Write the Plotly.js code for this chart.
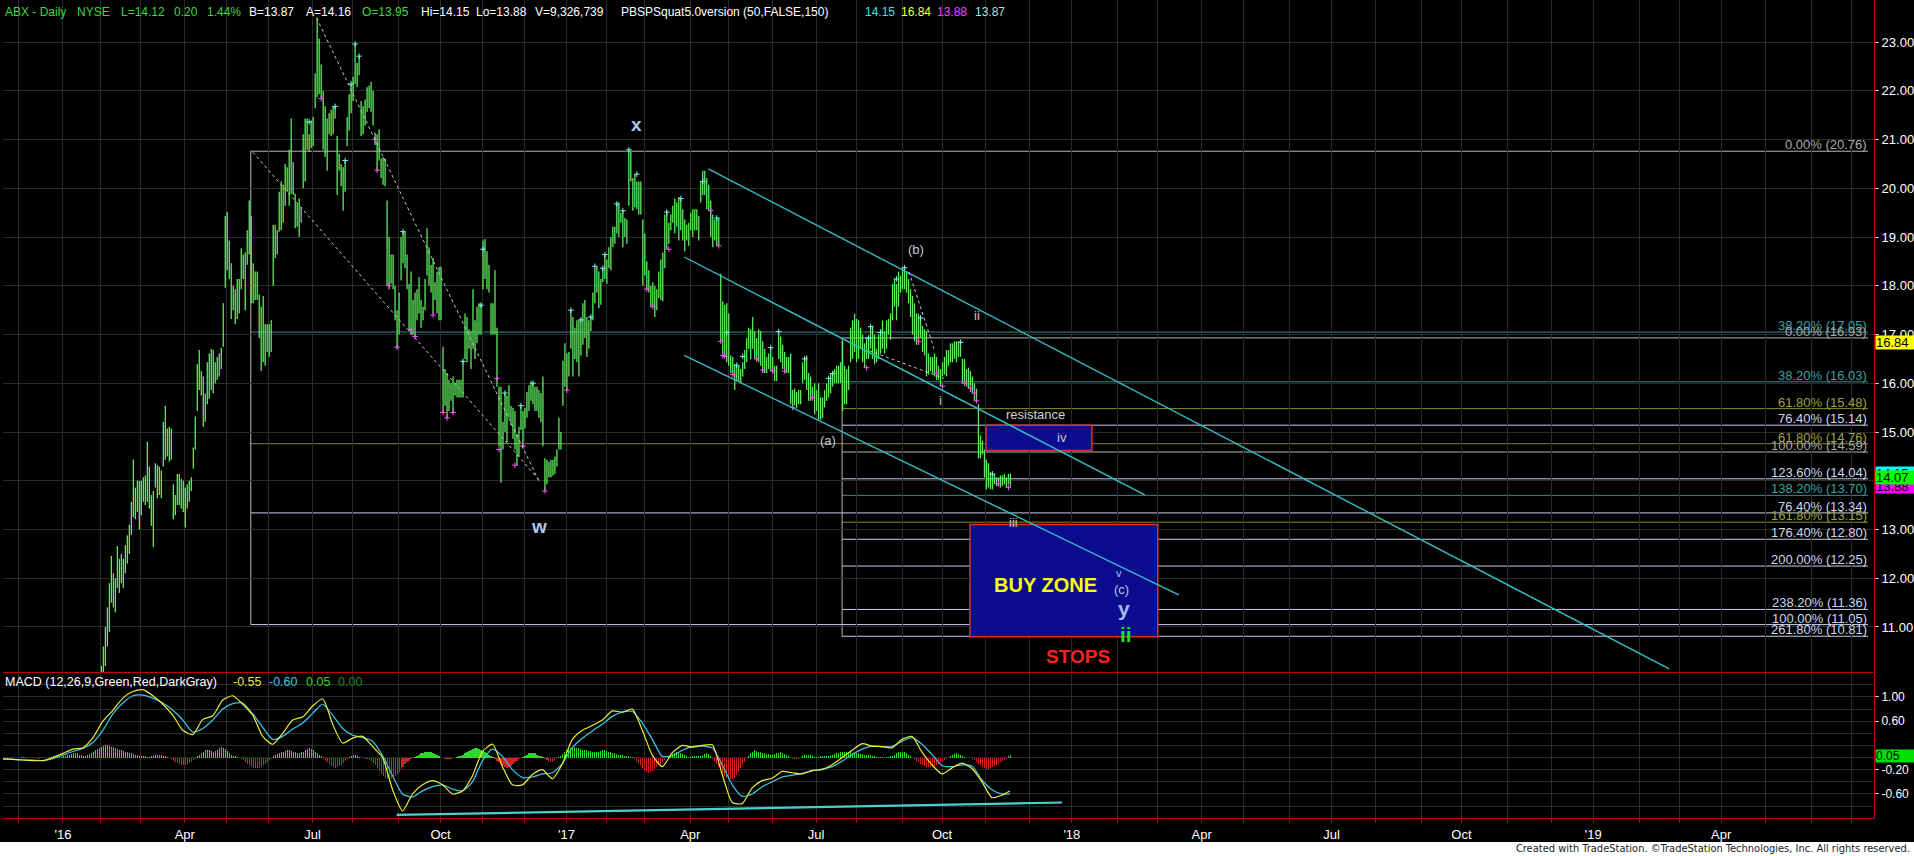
<!DOCTYPE html>
<html><head><meta charset="utf-8">
<script src="https://cdn.plot.ly/plotly-3.0.1.min.js"></script>
<style>
html,body{margin:0;padding:0;background:#000;overflow:hidden}
#chart{position:absolute;left:0;top:0;width:1914px;height:856px}
#credit{position:absolute;left:0;top:842px;width:1910px;height:14px;background:#fff;color:#222;
 font:11px "Liberation Sans Narrow","DejaVu Sans Condensed",Arial,sans-serif;line-height:14px;text-align:right;padding-right:4px}
</style></head><body>
<div id="chart"></div>
<div id="credit">Created with TradeStation. ©TradeStation Technologies, Inc. All rights reserved.</div>
<script>
// ================= DATA =================
const holidays = ['2015-11-26','2015-12-25','2016-01-01','2016-01-18','2016-02-15','2016-03-25','2016-05-30',
  '2016-07-04','2016-09-05','2016-11-24','2016-12-26','2017-01-02','2017-01-16','2017-02-20','2017-04-14',
  '2017-05-29','2017-07-04','2017-09-04'];
const firstAxisDay = '2015-11-18';
const axisEnd = '2019-07-16 12:00';
const firstPriceDay = '2016-01-04';

// daily bar highs / lows, one per trading day from 2016-01-04 to 2017-11-20
const barHigh = [
 7.9,7.8,7.5,7.6,7.8,7.9,8.0,7.6,7.4,7.6,7.8,8.1,8.3,8.6,8.7,9.0,9.2,9.7,10.0, // Jan16
 10.2,10.6,11.0,11.4,11.9,12.46,12.1,12.0,12.66,12.4,12.5,12.4,12.68,12.88,13.1,13.57,14.44,13.86,14.0,14.0, // Feb
 14.0,14.07,14.11,14.8,14.29,13.71,13.79,14.36,14.32,14.29,14.21,15.21,15.54,15.07,15.11,15.07,13.93,13.71,14.14,14.14,14.04,14.0, // Mar
 13.86,13.93,14.0,14.07,14.68,15.32,16.39,16.68,16.25,16.14,15.79,16.43,16.61,16.71,16.68,16.43,16.54,16.61,16.73,17.64,19.43, // Apr
 19.52,18.93,18.46,18.0,17.93,18.14,18.14,18.77,18.64,18.68,19.14,19.75,19.43,18.46,18.29,18.29,17.82,17.57,17.79,17.21,17.21, // May
 17.21,17.29,19.25,19.25,19.14,19.93,20.14,20.07,20.5,20.43,20.79,21.43,20.54,19.89,19.68,19.79,19.61,21.11,21.43,21.43,21.11,21.39, // Jun
 21.46,22.36,23.5,23.07,22.54,22.0,21.68,21.43,21.54,21.61,21.68,21.68,21.07,20.71,20.5,20.43,20.57,21.46,21.93,22.14, // Jul
 22.29,22.96,22.57,22.71,21.79,21.68,21.82,22.07,22.11,22.18,22.0,21.14,21.11,21.21,20.61,20.64,20.61,19.75,19.0,18.64,18.64,18.0,17.5, // Aug
 17.86,19.0,19.11,19.11,18.64,18.04,18.29,17.71,17.86,17.93,18.18,17.71,17.57,18.14,19.18,18.79,18.43,18.57,18.07,18.29,18.39, // Sep
 18.39,16.75,16.29,16.21,16.07,16.0,16.14,16.0,16.07,16.07,16.07,16.46,17.43,17.36,17.11,17.07,17.93,17.29,17.57,17.64,17.64, // Oct
 18.93,18.96,18.71,18.43,17.64,17.64,18.32,17.14,15.93,15.93,15.21,15.79,15.75,15.96,15.54,15.5,15.43,14.96,15.11,15.54,15.43, // Nov
 15.5,15.82,15.96,16.04,16.0,15.93,15.93,15.86,15.8,16.14,14.46,14.43,14.39,14.43,14.43,14.5,14.64,15.29,15.0,16.46,16.82, // Dec
 16.61,16.64,17.5,17.36,17.14,17.29,17.29,17.32,17.64,17.71,17.36,17.29,17.36,17.86,18.36,18.39,18.29,18.14,18.36,18.64, // Jan17
 18.54,18.79,19.0,19.21,19.21,19.68,19.71,19.5,19.54,19.39,19.36,20.79,20.75,20.21,20.29,20.14,20.14,20.14,19.36, // Feb
 19.07,18.5,18.32,18.0,18.07,18.0,17.93,18.29,18.54,18.68,19.46,19.54,19.29,19.46,19.64,19.79,19.71,19.82,19.79,19.57,19.36,19.25,19.29, // Mar
 19.5,19.57,19.57,19.57,19.43,20.14,20.36,20.36,20.21,20.07,19.75,19.46,19.36,19.39,19.39,18.25,17.68,17.61,17.64, // Apr
 17.43,16.57,16.54,16.39,16.36,16.36,16.29,16.43,16.68,16.93,17.14,17.11,17.36,17.07,16.93,17.11,17.07,16.86,16.71,16.54,16.61,16.75, // May
 16.54,16.36,16.36,17.07,16.96,16.79,16.64,16.54,16.54,16.61,15.86,15.89,15.82,15.86,15.86,16.43,16.54,16.57,16.21,16.14,15.93,16.0, // Jun
 15.86,16.0,15.71,15.71,15.86,16.0,16.11,16.21,16.25,16.29,16.36,16.36,16.43,16.86,16.36,16.29,16.36,17.14,17.29, // Jul
 17.43,17.32,17.29,17.14,17.0,16.82,16.93,16.93,17.18,17.18,17.0,16.71,17.0,17.11,17.29,17.07,17.29,17.32,17.43,18.04,18.14,18.04,18.29, // Aug
 18.21,18.39,18.37,18.29,18.14,17.93,17.79,17.64,17.43,17.43,17.36,17.18,17.11,17.07,16.61,16.54,16.54,16.61,16.54,16.36, // Sep
 16.29,16.43,16.54,16.68,16.68,16.82,16.82,16.86,16.86,16.86,16.86,16.5,16.5,16.29,16.32,16.25,16.14,16.0,15.89,15.57,14.93,14.82, // Oct
 14.64,14.43,14.36,14.18,14.14,14.14,14.07,14.07,14.11,14.11,14.14,14.07,14.14,14.15 // Nov
];
const barLow = [
 7.4,7.3,7.0,7.1,7.2,7.3,7.4,7.0,6.9,7.1,7.3,7.5,7.6,7.9,8.1,8.3,8.6,9.0,9.3,
 9.5,9.8,10.2,10.6,10.9,11.5,11.4,11.3,11.8,11.7,11.9,11.8,12.1,12.3,12.5,12.89,13.25,13.21,13.36,13.0,
 13.29,13.57,13.5,13.57,13.43,13.07,12.64,13.86,13.64,13.71,13.64,14.29,14.43,14.5,14.39,14.43,13.21,13.29,13.5,13.5,13.43,13.36,
 13.04,13.43,13.57,13.79,14.25,14.64,15.43,15.86,15.75,15.11,15.21,15.57,15.68,15.86,15.79,16.0,16.07,16.14,16.29,16.75,17.96,
 18.32,18.14,17.32,17.5,17.21,17.32,17.43,17.93,18.14,17.5,18.43,18.64,17.64,17.64,17.71,17.71,16.93,16.25,16.43,16.36,16.64,
 16.54,16.64,18.0,18.57,18.64,19.11,19.14,19.29,19.64,19.93,19.64,19.89,19.86,19.18,19.21,19.0,19.29,20.0,20.14,20.79,20.75,20.82,
 20.86,21.64,21.86,21.93,21.86,20.79,20.64,20.36,21.11,21.07,21.11,21.43,19.86,20.36,20.04,19.54,19.93,20.86,21.18,21.54,
 21.79,22.14,22.07,22.32,21.07,21.11,21.29,21.57,21.64,21.57,21.29,20.89,20.36,20.57,20.21,20.07,20.04,18.0,17.93,18.04,17.93,17.29,16.71,
 17.0,18.11,18.46,18.36,17.93,17.07,17.0,17.0,16.96,17.29,17.43,17.14,17.29,17.5,18.21,18.0,17.86,17.43,17.71,17.43,17.29,
 17.29,15.39,15.54,15.29,15.43,15.64,15.39,15.75,15.71,15.71,15.71,15.71,16.5,16.43,16.71,16.29,16.71,16.5,16.82,17.0,17.0,
 17.93,18.14,17.93,17.86,17.0,17.0,17.0,15.93,14.71,13.96,14.64,15.0,14.79,15.29,15.14,14.86,14.64,14.32,14.5,15.04,14.71,
 15.07,15.29,15.43,15.64,15.57,15.43,15.43,15.29,15.2,14.71,13.79,13.93,14.07,14.07,14.11,14.14,14.29,14.64,14.64,15.54,15.93,
 15.86,16.14,16.71,16.14,16.5,16.43,16.14,16.57,16.79,16.93,16.54,16.71,17.07,17.29,17.64,17.86,17.54,17.61,18.07,18.14,
 18.04,18.36,18.32,18.79,18.86,19.07,19.0,19.29,18.79,19.0,18.86,19.64,20.14,19.54,19.61,19.57,19.46,19.46,18.0,
 18.21,17.93,17.86,17.57,17.57,17.36,17.5,17.75,17.71,17.68,18.36,18.75,18.86,19.14,19.29,19.07,19.21,18.93,19.14,18.93,18.71,18.93,18.82,
 19.14,19.0,19.14,19.14,18.93,19.71,19.86,19.86,19.57,19.54,19.0,18.79,18.93,18.82,18.82,16.86,16.57,16.54,16.43,
 16.36,16.21,16.14,15.86,16.04,16.04,16.0,16.14,16.29,16.43,16.71,16.5,16.71,16.5,16.46,16.43,16.36,16.21,16.21,16.21,16.29,16.25,
 16.21,16.04,16.04,16.5,16.43,16.29,16.21,16.21,16.21,15.57,15.5,15.54,15.5,15.57,15.57,16.0,16.07,15.86,15.64,15.64,15.68,15.36,
 15.43,15.25,15.25,15.29,15.5,15.64,15.71,15.79,15.93,16.0,16.0,16.0,16.0,15.43,15.57,15.57,15.86,16.43,16.5,
 16.64,16.43,16.5,16.71,16.43,16.32,16.5,16.5,16.71,16.5,16.39,16.43,16.5,16.61,16.71,16.61,16.71,17.0,16.89,17.29,17.57,17.29,17.57,
 17.86,17.93,17.93,17.86,17.64,17.36,17.0,16.86,16.79,16.79,16.93,16.64,16.57,16.14,16.18,16.25,16.21,16.14,16.07,16.07,
 15.94,16.14,16.18,16.14,16.36,16.43,16.43,16.5,16.43,16.54,16.54,16.0,16.0,15.93,15.89,15.82,15.79,15.64,15.64,14.46,14.46,14.54,
 14.07,13.82,13.86,13.82,13.82,13.93,13.89,13.89,13.86,13.89,13.93,13.86,13.93,13.88
];

// swing markers of the PBSPSquat indicator: bar number (0 = 2016-01-04) and price
const upMarkBar   = [123,136,141,144,146,148,170,200,209,210,221,229,235,254,259,264,266,270,271,277,280,283,287,302,309,320,327,332,337,340,354,358,371,383,385,403,404,409,417,421,429,449,465];
const upMarkPrice = [21.36,21.68,20.57,22.14,22.96,22.71,19.11,16.45,17.6,18.75,15.8,15.54,16.0,17.5,17.3,17.36,18.4,18.36,18.64,19.68,19.54,20.79,20.29,19.51,19.79,20.14,19.39,17.04,16.37,16.55,16.73,17.06,16.5,16.1,16.2,16.93,17.16,17.04,18.14,18.37,17.34,16.84,14.14];
const dnMarkBar   = [129,156,157,163,167,174,176,185,190,192,195,217,218,226,230,241,252,292,295,303,324,328,329,330,331,335,347,350,355,361,365,375,402,428,437,440,451,454,456,457,468,473];
const dnMarkPrice = [21.84,21.0,20.37,18.0,16.74,17.1,16.96,17.4,15.4,15.29,15.4,16.1,14.64,14.32,14.71,13.79,15.86,17.93,17.57,18.75,19.54,18.82,16.86,16.57,16.55,16.18,16.5,16.27,16.25,16.25,15.5,15.7,16.32,16.86,16.21,15.94,16.0,15.9,15.8,15.64,13.94,13.86];

// MACD histogram, one per trading day from 2015-11-18 (hundredths)
const macdHistCents = [
 0,0,-1,-1,-1,-1,0,0,0,1,1,1,0,0,-1,-1,-1,-2,-2,-1,-1,0,0,1,1,2,2,2,1,1,
 2,3,4,5,6,7,8,7, 5,4,3,3,4,
 6,8,10,12,14,16,18,19,20,20,19,18,17,15,14,13,12,11,10,9,8,7,6,5,
 4,3,3,2,2,1,1, 2,3,4,5,5,4,3,2,1,
 -1,-3,-5,-7,-9,-11,-12,-13,-12,-11,-9,-7,-4,-2,
 2,5,8,10,12,13,12,11,10,11,13,15,17,16,14,11,8,5, 3,2,1,0,
 -2,-4,-7,-10,-13,-15,-17,-18,-18,-17,-15,-13,-10,-7,-4,-2,
 2,4,6,8,9,10,11,12,12,11,10,9,8,8,9,10,12,14,15,14,12,10,7,5,2,
 -2,-5,-8,-11,-14,-16,-17,-16,-14,-12,-9,-6,-3,
 1,3,5,4,2,1,0,-1,-2,-3,-4,
 -6,-9,-13,-17,-22,-27,-31,-34,-36,-37,-36,-34,-31,-27,-23,-19,-15,-11,-8,-5,
 -3,-1,1,3,5,7,8,9,10,10,9,8,6,4,2,0,
 -1,-2,-3,-3,-2,-1,0,1,2,3,
 5,7,9,11,13,14,15,15,14,13,11,9,7,5,3,1,
 -2,-5,-8,-11,-14,-16,-17,-16,-14,-11,-8,-5,-3,-1,
 1,3,5,7,8,8,7,5,3,2,1, -2,-4,-6,-8,-8,-6,-3,
 1,3,6,9,12,14,16,17,17,16,15,14,13,12,12,11,11,10,10,10,
 10,11,12,12,11,10,9,8,7,6,5,4,4,3,3,2,1,1,
 -2,-5,-9,-13,-17,-21,-24,-25,-24,-22,-19,-16,-13,-10,-7,-4,-1,
 2,4,6,8,9,9,8,6,4,2, 1,1,2,2,3,3,2, 4,6,7,6,3,
 -2,-6,-11,-16,-21,-26,-30,-33,-35,-36,-35,-33,-29,-24,-18,-12,-7,-3,
 3,7,10,12,11,10,9,8,7,6,6,5,5,6,7,8,9,8,6,4,2,
 -1,-2,-3,-3,-2,-1, 2,4,5,5,4,2, 1,1,1,2,2,2,2,
 3,4,5,6,7,8,9,10,10,10,9,9,8,8,7,7,6,6,5,5,4,4,3,2,1,
 1,1,1,0,1,1,2, 3,5,7,9,10,10,9,7,5,2,
 -1,-3,-5,-8,-10,-12,-14,-15,-16,-16,-15,-14,-12,-10,-8,-6,-4,-2,-1,
 2,4,6,7,6,4,2, 1,0,-1,-1,-2,
 -4,-7,-10,-13,-16,-18,-19,-19,-18,-16,-14,-12,-10,-8,-6,-4,-2, 3,5
];
// MACD and signal line read every 5th trading day from 2015-11-18, plus the last day
const macdLine = [
 -0.02,-0.03,-0.04,-0.05,-0.05,0.0,0.07,0.14,0.16,0.33,
 0.6,0.78,0.98,1.09,1.12,1.02,0.88,0.7,0.45,0.38,
 0.63,0.69,0.95,1.02,0.88,0.7,0.35,0.22,0.4,0.62,
 0.67,0.85,0.97,0.55,0.24,0.32,0.35,0.18,0.0,-0.53,
 -0.88,-0.6,-0.45,-0.38,-0.45,-0.6,-0.55,-0.3,0.1,0.22,
 -0.15,-0.45,-0.45,-0.28,-0.2,-0.35,-0.1,0.3,0.45,0.53,
 0.62,0.77,0.75,0.8,0.45,0.04,-0.15,0.08,0.2,0.17,
 0.2,0.21,-0.28,-0.74,-0.76,-0.5,-0.38,-0.34,-0.23,-0.25,
 -0.27,-0.21,-0.2,-0.12,0.0,0.12,0.23,0.19,0.18,0.16,
 0.3,0.35,0.09,-0.12,-0.27,-0.17,-0.09,-0.18,-0.4,-0.66,
 -0.62,-0.55
];
const macdSignal = [
 -0.02,-0.03,-0.04,-0.04,-0.05,-0.02,0.04,0.1,0.15,0.25,
 0.45,0.72,0.9,1.02,1.03,0.98,0.9,0.78,0.62,0.42,
 0.48,0.62,0.8,0.89,0.9,0.72,0.5,0.3,0.35,0.47,
 0.57,0.73,0.88,0.7,0.48,0.37,0.33,0.27,0.03,-0.3,
 -0.6,-0.65,-0.55,-0.48,-0.45,-0.52,-0.55,-0.4,-0.05,0.14,
 0.02,-0.2,-0.33,-0.32,-0.27,-0.25,-0.1,0.17,0.32,0.44,
 0.55,0.68,0.75,0.76,0.57,0.3,0.02,0.03,0.12,0.18,
 0.19,0.16,-0.12,-0.45,-0.64,-0.6,-0.48,-0.4,-0.32,-0.29,
 -0.26,-0.22,-0.19,-0.15,-0.06,0.05,0.14,0.19,0.18,0.18,
 0.27,0.33,0.22,0.05,-0.13,-0.15,-0.12,-0.14,-0.37,-0.53,
 -0.6,-0.6
];

// Fibonacci levels
const fibPrices = [20.76,17.05,14.76,13.34,11.05, 16.93,16.03,15.48,15.14,14.59,14.04,13.70,13.15,12.80,12.25,11.36,10.81];
const fibLabels = ['0.00% (20.76)','38.20% (17.05)','61.80% (14.76)','76.40% (13.34)','100.00% (11.05)',
  '0.00% (16.93)','38.20% (16.03)','61.80% (15.48)','76.40% (15.14)','100.00% (14.59)','123.60% (14.04)',
  '138.20% (13.70)','161.80% (13.15)','176.40% (12.80)','200.00% (12.25)','238.20% (11.36)','261.80% (10.81)'];
const fibKinds = ['gray','teal','olive','light','light','gray','teal','olive','light','gray','light','teal','olive','light','light','light','light'];
const fibStarts = ['2016-05-18','2016-05-18','2016-05-18','2016-05-18','2016-05-18',
  '2017-07-21','2017-07-21','2017-07-21','2017-07-21','2017-07-21','2017-07-21','2017-07-21','2017-07-21','2017-07-21','2017-07-21','2017-07-21','2017-07-21'];
const fibEnd = '2019-07-11 12:00';

// trend lines [date0, price0, date1, price1]
const channelLines = [
  ['2017-04-17',20.40,'2019-02-22',10.14],
  ['2017-03-29',18.59,'2018-02-20 12:00',13.71],
  ['2017-03-29',16.57,'2018-03-15 12:00',11.66]
];
const dottedLines = [
  ['2016-07-06',23.49,'2016-12-12 12:00',13.97],
  ['2016-05-19',20.74,'2016-12-12 12:00',14.01],
  ['2017-08-09 12:00',16.67,'2017-10-03',16.10],
  ['2017-09-07 12:00',18.28,'2017-09-26',16.71]
];
const macdTrend = ['2016-08-31',-0.947,'2017-12-25',-0.741];

// zones [date0, date1, priceTop, priceBottom]
const resistanceZone = ['2017-11-01','2018-01-15',15.14,14.62];
const buyZone = ['2017-10-20','2018-03-01',13.10,10.80];

// wave labels [text, date, price, size, bold, color]
const waveLabels = [
  ['x','2017-02-23',21.31,19,true,'#b4c6ea'],
  ['w','2016-12-12 12:00',13.07,19,true,'#b4c6ea'],
  ['(b)','2017-09-13',18.74,13,false,'#c8c8c8'],
  ['ii','2017-10-25 12:00',17.39,13,false,'#c8c8c8'],
  ['i','2017-09-29',15.64,13,false,'#c8c8c8'],
  ['(a)','2017-07-12',14.82,13,false,'#c8c8c8'],
  ['resistance','2017-12-06',15.36,13,false,'#d0d0d0'],
  ['iv','2017-12-25',14.89,13,false,'#c8c8c8'],
  ['iii','2017-11-21',13.14,13,false,'#c8c8c8'],
  ['BUY ZONE','2017-12-13',11.86,20,true,'#ffff00'],
  ['v','2018-02-01 12:00',12.11,11,false,'#b4c6ea'],
  ['(c)','2018-02-05',11.77,13,false,'#b4c6ea'],
  ['y','2018-02-06',11.38,21,true,'#aab8e8'],
  ['ii','2018-02-07',10.84,21,true,'#22dd22'],
  ['STOPS','2018-01-04',10.39,19,true,'#ff2020']
];

// right axis value markers [text, price, bg]
const priceMarkers = [['14.15',14.15,'#00ffff'],['13.88',13.88,'#ff00ff'],['16.84',16.84,'#ffff00'],['14.07',14.07,'#00ff00']];
const monthNames = ['Jan','Feb','Mar','Apr','May','Jun','Jul','Aug','Sep','Oct','Nov','Dec'];

// header tokens [text, colour, left pixel]
const headerTokens = [
  ['ABX - Daily','#3ed83e',4],['NYSE','#3ed83e',76],['L=14.12','#3ed83e',120],['0.20','#3ed83e',173],['1.44%','#3ed83e',206],
  ['B=13.87','#ffffff',248],['A=14.16','#ffffff',305],['O=13.95','#3ed83e',361],['Hi=14.15','#ffffff',420],['Lo=13.88','#ffffff',475],
  ['V=9,326,739','#ffffff',534],['PBSPSquat5.0version (50,FALSE,150)','#ffffff',620],
  ['14.15','#3ce0e8',864],['16.84','#ffff3c',900],['13.88','#ff40ff',936],['13.87','#b8dcdc',974]
];
const macdTokens = [
  ['MACD (12,26,9,Green,Red,DarkGray)','#ffffff',4],['-0.55','#e8e830',232],['-0.60','#3cc8e8',268],['0.05','#30d030',305],['0.00','#1c8a1c',337]
];

// ================= BUILD =================
const holSet = new Set(holidays);
const days = [];
{
  let t = Date.parse(firstAxisDay + 'T00:00:00Z');
  const end = Date.parse('2019-08-31T00:00:00Z');
  while (t <= end) {
    const d = new Date(t), wd = d.getUTCDay(), s = d.toISOString().slice(0,10);
    if (wd !== 0 && wd !== 6 && !holSet.has(s)) days.push(s);
    t += 86400000;
  }
}
const p0 = days.indexOf(firstPriceDay);

const bx = [], by = [];
for (let i = 0; i < barHigh.length; i++) {
  const d = days[p0 + i] + ' 06:00';
  bx.push(d, d, null); by.push(barLow[i], barHigh[i], null);
}
const hx = [], hy = [], hc = [];
for (let k = 0; k < macdHistCents.length; k++) {
  hx.push(days[k] + ' 06:00'); hy.push(macdHistCents[k] / 100);
  hc.push(macdHistCents[k] >= 0 ? '#2ed82e' : '#d02222');
}
const mx = [];
for (let j = 0; j < macdLine.length - 1; j++) mx.push(days[5 * j]);
mx.push(days[macdHistCents.length - 1]);

const tickVals = [], tickText = [];
{
  let lastM = '';
  for (const d of days) {
    const m = d.slice(0,7);
    if (m !== lastM) {
      lastM = m;
      tickVals.push(d);
      const mi = +d.slice(5,7) - 1;
      const lbl = mi === 0 ? "'" + d.slice(2,4) : (mi % 3 === 0 ? monthNames[mi] : '');
      tickText.push(d > '2019-06-01' ? '' : lbl);
    }
  }
  tickVals.shift(); tickText.shift();
}

const colors = {gray:['#b4b4b4','#a8a8a8'], teal:['#2b8e8e','#3aa0a0'], olive:['#8a8a28','#a0a040'], light:['#c4cee4','#cdd6ec']};
const shapes = [];
const annotations = [];

for (let i = 0; i < fibPrices.length; i++) {
  shapes.push({type:'line', xref:'x', yref:'y', x0:fibStarts[i], x1:fibEnd, y0:fibPrices[i], y1:fibPrices[i],
    line:{color:colors[fibKinds[i]][0], width:1}, layer:'below'});
  annotations.push({xref:'x', yref:'y', x:fibEnd, y:fibPrices[i], xanchor:'right', yanchor:'bottom', yshift:-2,
    text:fibLabels[i], showarrow:false, font:{size:13, color:colors[fibKinds[i]][1]}, borderpad:0});
}
shapes.push({type:'line', xref:'x', yref:'y', x0:fibStarts[0], x1:fibStarts[0], y0:fibPrices[0], y1:fibPrices[4], line:{color:'#b4b4b4', width:1}, layer:'below'});
shapes.push({type:'line', xref:'x', yref:'y', x0:fibStarts[5], x1:fibStarts[5], y0:fibPrices[5], y1:fibPrices[16], line:{color:'#b4b4b4', width:1}, layer:'below'});

for (const z of [resistanceZone, buyZone]) {
  shapes.push({type:'rect', xref:'x', yref:'y', x0:z[0], x1:z[1], y0:z[3], y1:z[2],
    fillcolor:'#0b0b8e', line:{color:'#d83030', width:1.5}, layer:'above'});
}
for (const c of channelLines) {
  shapes.push({type:'line', xref:'x', yref:'y', x0:c[0], y0:c[1], x1:c[2], y1:c[3], line:{color:'#36bcc6', width:1.4}, layer:'above'});
}
for (const c of dottedLines) {
  shapes.push({type:'line', xref:'x', yref:'y', x0:c[0], y0:c[1], x1:c[2], y1:c[3], line:{color:'#c8c8c8', width:1, dash:'dot'}, layer:'above'});
}
shapes.push({type:'line', xref:'x', yref:'y2', x0:macdTrend[0], y0:macdTrend[1], x1:macdTrend[2], y1:macdTrend[3], line:{color:'#48d0d0', width:2.2}, layer:'above'});
shapes.push({type:'line', xref:'paper', yref:'paper', x0:0, x1:1, y0:0.1779, y1:0.1779, line:{color:'#c00000', width:1}});

for (const w of waveLabels) {
  annotations.push({xref:'x', yref:'y', x:w[1], y:w[2], text: w[4] ? '<b>' + w[0] + '</b>' : w[0], showarrow:false,
    xanchor:'center', yanchor:'middle', font:{size:w[3], color:w[5]}});
}
for (const m of priceMarkers) {
  annotations.push({xref:'paper', yref:'y', x:1, y:m[1], xanchor:'left', yanchor:'middle', xshift:1, text:m[0],
    showarrow:false, bgcolor:m[2], font:{size:13, color:'#000'}, width:38, height:13, align:'left', borderpad:0});
}
annotations.push({xref:'paper', yref:'y2', x:1, y:0.03, xanchor:'left', yanchor:'middle', xshift:1, text:'0.05',
  showarrow:false, bgcolor:'#00e000', font:{size:12, color:'#000'}, width:38, height:12, align:'left', borderpad:0});

const plotW = 1871;
for (const t of headerTokens) {
  annotations.push({xref:'paper', yref:'paper', x:(t[2] - 3) / plotW, y:(818 - 12) / 818, xanchor:'left', yanchor:'middle',
    showarrow:false, text:t[0], font:{size:12, color:t[1]}, borderpad:0});
}
for (const t of macdTokens) {
  annotations.push({xref:'paper', yref:'paper', x:(t[2] - 3) / plotW, y:(818 - 682) / 818, xanchor:'left', yanchor:'middle',
    showarrow:false, text:t[0], font:{size:12.5, color:t[1]}, borderpad:0});
}

const traces = [
  {type:'scatter', mode:'lines', x:bx, y:by, xaxis:'x', yaxis:'y', line:{color:'#5cec5c', width:1.3}, hoverinfo:'skip', connectgaps:false},
  {type:'scatter', mode:'markers', x:upMarkBar.map(i => days[p0 + i] + ' 06:00'), y:upMarkPrice, xaxis:'x', yaxis:'y',
    marker:{symbol:'cross-thin', size:4, color:'#7ff0f0', line:{color:'#7ff0f0', width:1}}, hoverinfo:'skip'},
  {type:'scatter', mode:'markers', x:dnMarkBar.map(i => days[p0 + i] + ' 06:00'), y:dnMarkPrice, xaxis:'x', yaxis:'y',
    marker:{symbol:'cross-thin', size:4, color:'#ff50ff', line:{color:'#ff50ff', width:1}}, hoverinfo:'skip'},
  {type:'bar', x:hx, y:hy, xaxis:'x', yaxis:'y2', marker:{color:hc, line:{width:0}}, width:50000000, hoverinfo:'skip'},
  {type:'scatter', mode:'lines', x:mx, y:macdSignal, xaxis:'x', yaxis:'y2', line:{color:'#3cc8e8', width:1.2, shape:'spline', smoothing:0.6}, hoverinfo:'skip'},
  {type:'scatter', mode:'lines', x:mx, y:macdLine, xaxis:'x', yaxis:'y2', line:{color:'#ecec34', width:1.2, shape:'spline', smoothing:0.6}, hoverinfo:'skip'}
];

const grid = '#2a2a2a';
const layout = {
  width:1914, height:856,
  margin:{l:3, r:40, t:0, b:38, pad:0},
  paper_bgcolor:'#000', plot_bgcolor:'#000', showlegend:false, bargap:0,
  font:{family:'Arial, "Liberation Sans", sans-serif', color:'#fff', size:13},
  xaxis:{type:'date', range:[firstAxisDay, axisEnd], rangebreaks:[{bounds:['sat','mon']},{values:holidays}],
    anchor:'y2', tickmode:'array', tickvals:tickVals, ticktext:tickText, showgrid:true, gridcolor:grid, gridwidth:1,
    showline:true, linecolor:'#c00000', linewidth:1, ticks:'outside', ticklen:4, tickcolor:'#c00000',
    tickfont:{size:13, color:'#fff'}, zeroline:false, fixedrange:true},
  yaxis:{domain:[0.1785,1], range:[10.077,23.862], side:'right', anchor:'x', dtick:1, tick0:0, tickformat:'.2f',
    showgrid:true, gridcolor:grid, showline:true, linecolor:'#c00000', linewidth:1, ticks:'outside', ticklen:4,
    tickcolor:'#c8c8c8', zeroline:false, tickfont:{size:13, color:'#fff'}, fixedrange:true},
  yaxis2:{domain:[0,0.1773], range:[-0.997,1.396], side:'right', anchor:'x', tickmode:'array',
    tickvals:[1,0.6,-0.2,-0.6], ticktext:['1.00','0.60','-0.20','-0.60'],
    showgrid:true, gridcolor:grid, minor:{tick0:0, dtick:0.2, showgrid:true, gridcolor:grid},
    showline:true, linecolor:'#c00000', linewidth:1, ticks:'outside', ticklen:4, tickcolor:'#c8c8c8',
    zeroline:false, tickfont:{size:12, color:'#fff'}, fixedrange:true},
  shapes:shapes, annotations:annotations
};
Plotly.newPlot('chart', traces, layout, {displayModeBar:false, staticPlot:true});
</script>
</body></html>
